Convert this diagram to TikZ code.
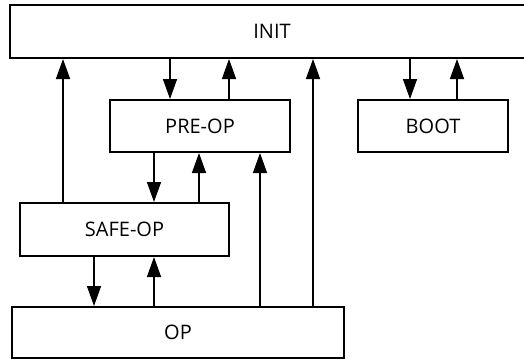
\documentclass[tikz,border=0pt]{standalone}
\usepackage{fontspec}
\setmainfont{Open Sans}
\usetikzlibrary{arrows.meta}
\begin{document}
\begin{tikzpicture}[x=1pt,y=-1pt,
  box/.style={draw,line width=2pt,rectangle,inner sep=0pt,font=\fontsize{20}{24}\selectfont},
  arr/.style={line width=1.5pt,-{Triangle[length=20pt,width=14pt]}},
  ln/.style={line width=1.5pt}]
\useasboundingbox (0,0) rectangle (524,360);
\node[box,minimum width=524pt,minimum height=53pt] (init) at (272,31.5) {INIT};
\node[box,minimum width=180pt,minimum height=52pt] (pre) at (200,126) {PRE-OP};
\node[box,minimum width=150pt,minimum height=52pt] (boot) at (433,126) {BOOT};
\node[box,minimum width=209pt,minimum height=53pt] (safe) at (124.5,229.5) {SAFE-OP};
\node[box,minimum width=332pt,minimum height=51pt] (op) at (178,332.5) {OP};
\foreach \n/\x in {a/63,b/170,c/229,d/313,e/410,f/457,g/154,h/199,i/260,j/94}
  \coordinate (\n) at (\x,0);
% INIT <-> PRE-OP
\draw[arr] (init.south -| b) -- (pre.north -| b);
\draw[arr] (pre.north -| c) -- (init.south -| c);
% INIT <-> BOOT
\draw[arr] (init.south -| e) -- (boot.north -| e);
\draw[arr] (boot.north -| f) -- (init.south -| f);
% SAFE-OP -> INIT
\draw[arr] (safe.north -| a) -- (init.south -| a);
% OP -> INIT
\draw[arr] (op.north -| d) -- (init.south -| d);
% PRE-OP <-> SAFE-OP
\draw[arr] (pre.south -| g) -- (safe.north -| g);
\draw[arr] (safe.north -| h) -- (pre.south -| h);
% OP -> PRE-OP
\draw[arr] (op.north -| i) -- (pre.south -| i);
% SAFE-OP <-> OP
\draw[arr] (safe.south -| j) -- (op.north -| j);
\draw[arr] (op.north -| g) -- (safe.south -| g);
\end{tikzpicture}
\end{document}
